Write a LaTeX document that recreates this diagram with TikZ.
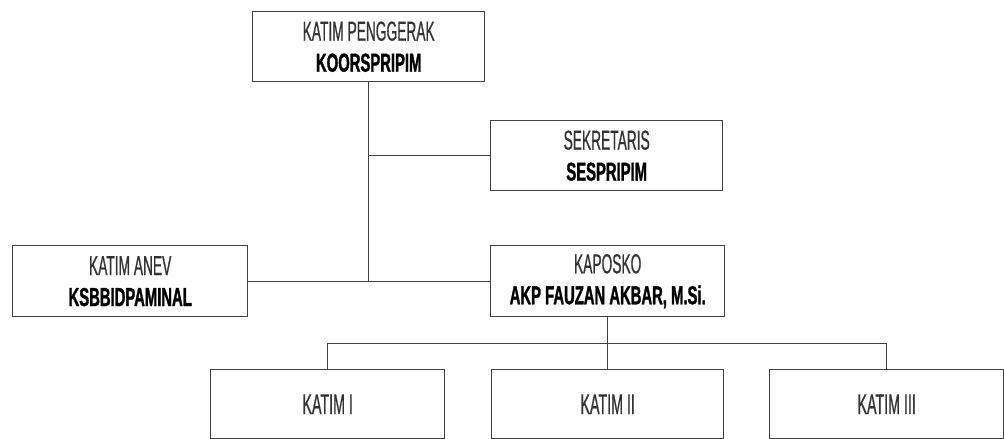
\documentclass[tikz,border=0pt]{standalone}
\usepackage{fontspec}
\usetikzlibrary{calc}
\setmainfont{Liberation Sans}
\newfontfamily\lightf{Liberation Sans}[FakeStretch=0.5,FakeBold=0.6]
\newfontfamily\boldf{Liberation Sans}[FakeStretch=0.57,BoldFeatures={FakeBold=1.2}]
\definecolor{linec}{HTML}{404040}
\definecolor{lighttext}{HTML}{333333}
\newcommand{\toptext}[1]{{\color{lighttext}\lightf\fontsize{27.5}{31}\selectfont #1}}
\newcommand{\bottext}[1]{{\color{black}\boldf\bfseries\fontsize{26}{31}\selectfont #1}}
\begin{document}
\begin{tikzpicture}[x=1pt,y=-1pt,
  box/.style={draw=linec, line width=1.4pt, fill=white, inner sep=0pt, align=center,
    anchor=north west, font=\fontsize{26}{31}\selectfont},
  link/.style={draw=linec, line width=1.4pt}]
\useasboundingbox (0,0) rectangle (1004,439);
\fill[white] (0,0) rectangle (1004,439);

\node[box, minimum width=232pt, minimum height=70pt] (top) at (252,11)
  {\toptext{KATIM PENGGERAK}\\\bottext{KOORSPRIPIM}};
\node[box, minimum width=232pt, minimum height=70pt] (sek) at (490,120)
  {\toptext{SEKRETARIS}\\\bottext{SESPRIPIM}};
\node[box, minimum width=235pt, minimum height=71pt] (anev) at (12,245)
  {\toptext{KATIM ANEV}\\\bottext{KSBBIDPAMINAL}};
\node[box, minimum width=234pt, minimum height=71pt] (kap) at (490,245)
  {\toptext{KAPOSKO}\\\bottext{AKP FAUZAN AKBAR, M.Si.}};
\node[box, minimum width=234pt, minimum height=69pt] (k1) at (210,369)
  {{\color{lighttext}\lightf\fontsize{28.5}{31}\selectfont KATIM I}};
\node[box, minimum width=232pt, minimum height=69pt] (k2) at (491,369)
  {{\color{lighttext}\lightf\fontsize{28.5}{31}\selectfont KATIM II}};
\node[box, minimum width=234pt, minimum height=69pt] (k3) at (769,369)
  {{\color{lighttext}\lightf\fontsize{28.5}{31}\selectfont KATIM III}};

\coordinate (j1) at (top.south |- anev.east);
\coordinate (j2) at ($(kap.south)+(0,26)$);
\path[link] (top.south) -- (j1);
\path[link] (anev.east) -- (kap.west);
\path[link] (top.south |- sek.west) -- (sek.west);
\path[link] (kap.south) -- (j2);
\path[link] (k1.north) |- (j2) -| (k3.north);
\path[link] (j2) -- (k2.north);
\end{tikzpicture}
\end{document}
